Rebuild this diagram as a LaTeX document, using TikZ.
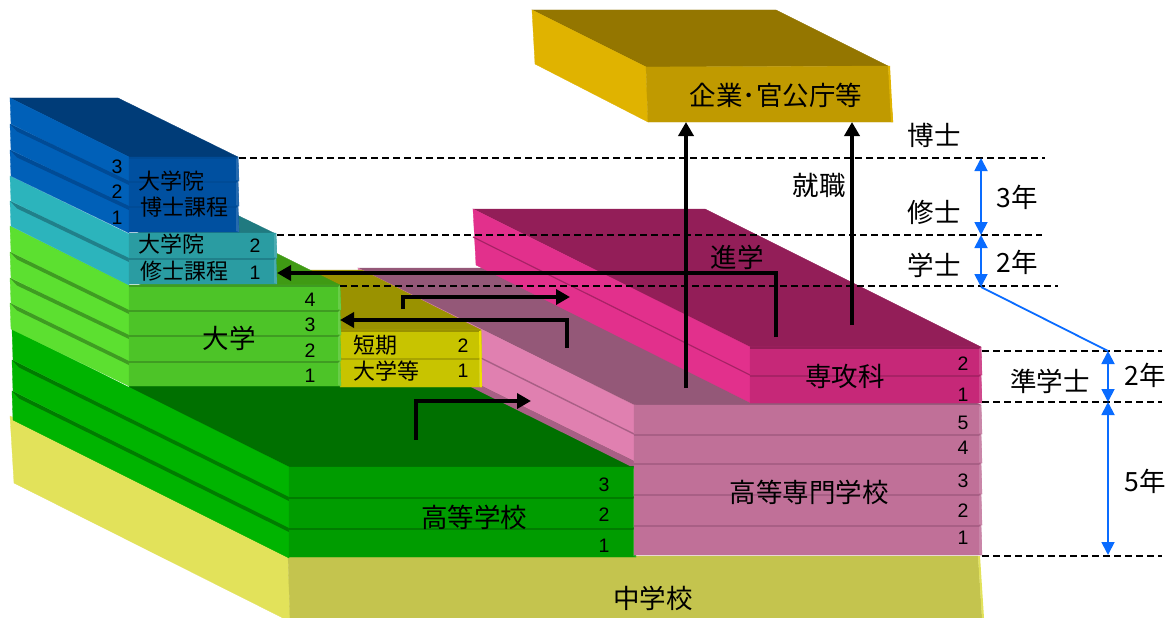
\documentclass[tikz,border=0pt]{standalone}
\usepackage{fontspec}
\setmainfont{Liberation Sans}
\newfontfamily\cjk{Noto Sans CJK JP}
\usetikzlibrary{arrows.meta}
\definecolor{blSide}{HTML}{0060B8}\definecolor{blStrip}{HTML}{004B96}\definecolor{blTop}{HTML}{003C78}\definecolor{blFront}{HTML}{0050A0}
\definecolor{tlSide}{HTML}{2CB4BC}\definecolor{tlStrip}{HTML}{20808A}\definecolor{tlTop}{HTML}{207A80}\definecolor{tlFront}{HTML}{2A9CA2}
\definecolor{ugSide}{HTML}{5CE030}\definecolor{ugStrip}{HTML}{3F9C22}\definecolor{ugTop}{HTML}{3F9A14}\definecolor{ugFront}{HTML}{4DC428}
\definecolor{ylFront}{HTML}{C8C400}\definecolor{ylTop}{HTML}{9A9200}\definecolor{ylStrip}{HTML}{A8A400}
\definecolor{pkSide}{HTML}{E080B0}\definecolor{pkStrip}{HTML}{A85F85}\definecolor{pkTop}{HTML}{945878}\definecolor{pkFront}{HTML}{C07098}
\definecolor{mgSide}{HTML}{E2308C}\definecolor{mgStrip}{HTML}{A82266}\definecolor{mgTop}{HTML}{931E58}\definecolor{mgFront}{HTML}{C62878}
\definecolor{hsSide}{HTML}{00B400}\definecolor{hsStrip}{HTML}{007C00}\definecolor{hsTop}{HTML}{007000}\definecolor{hsFront}{HTML}{009C00}
\definecolor{jhSide}{HTML}{E2E25A}\definecolor{jhFront}{HTML}{C4C44E}
\definecolor{gdSide}{HTML}{E0B300}\definecolor{gdTop}{HTML}{947600}\definecolor{gdFront}{HTML}{C09A00}
\definecolor{span}{HTML}{0A6CFF}
\tikzset{
  num/.style={font=\fontsize{19.5}{20}\selectfont,inner sep=0pt,text=black},
  lab/.style={font=\cjk\fontsize{22}{24}\selectfont,inner sep=0pt,text=black},
  labbig/.style={font=\cjk\fontsize{26.5}{28}\selectfont,inner sep=0pt,text=black},
  flow/.style={line width=4.8pt,-{Triangle[length=14pt,width=15pt]},black},
  spanarrow/.style={line width=1.8pt,{Triangle[length=13pt,width=13pt]}-{Triangle[length=13pt,width=13pt]},span},
  level/.style={dashed,dash pattern=on 7pt off 4pt,line width=1.1pt,black},
  slab/.style={fill=#1,draw=#1,line width=.3pt}
}
% side slab: x-left, y-left, x-right, y-right, y-left-bottom, y-right-bottom, colour
\newcommand{\sidepiece}[7]{\path[slab=#7] (#1,#2)--(#3,#4)--(#3,#6)--(#1+1,#5)--cycle;}
% dark strip along the top edge of a lower side slab
\newcommand{\sidestrip}[5]{\fill[#5] (#1,#2)--(#3,#4)--(#3,#4+4)--(#1+7,#2+7.5)--cycle;}
% front slab: x1,y1,x2,y2,fill,strip colour
\newcommand{\frontpiece}[6]{\path[slab=#5] (#1,#2)--(#3,#2)--(#3+1,#4)--(#1,#4)--cycle;
  \fill[#6] (#1,#2-.5)--(#3,#2-.5)--(#3,#2+2)--(#1,#2+2)--cycle;
  \fill[#5!85!white] (#3-2,#2+2)--(#3,#2)--(#3+1,#4)--(#3-2,#4-1)--cycle;}
\begin{document}
\begin{tikzpicture}[x=1pt,y=-1pt]
\useasboundingbox (0,0) rectangle (1176,618);
\fill[white] (0,0) rectangle (1176,618);
% company block
\path[slab=gdTop] (532,10)--(776,10)--(888,66)--(646,67)--cycle;
\path[slab=gdSide] (532,10)--(646,67)--(648,122)--(535,64)--cycle;
\path[slab=gdFront] (646,67)--(888,66)--(893,122)--(648,122)--cycle;
\fill[gdSide] (888,66)--(890,66)--(893,122)--(891,122)--cycle;
% junior high
\path[slab=jhSide] (10,416)--(288,556)--(290,618)--(283,618)--(14,483)--cycle;
\path[slab=jhFront] (288,556)--(978,556)--(982,618)--(290,618)--cycle;
\fill[jhSide] (978,556)--(980,556)--(984,618)--(982,618)--cycle;
% high school
\path[slab=hsTop] (129,385)--(640,385)--(640,467)--(289,470)--(129,392)--cycle;
\sidepiece{12}{329}{289}{467}{360}{498}{hsSide}
\sidepiece{12}{360}{289}{498}{391}{529}{hsSide}
\sidepiece{12}{391}{289}{529}{420}{558}{hsSide}
\sidestrip{12}{360}{289}{497}{hsStrip}
\sidestrip{12}{391}{289}{528}{hsStrip}
\frontpiece{289}{467}{635}{497}{hsFront}{hsFront}
\frontpiece{289}{497}{635}{528}{hsFront}{hsStrip}
\frontpiece{289}{528}{635}{557}{hsFront}{hsStrip}
% college of technology
\path[slab=pkTop] (358,268)--(705,268)--(981,405)--(634,405)--cycle;
\path[slab=pkSide] (358,268)--(634,405)--(636,405)--(636,462)--(358,325)--cycle;
\fill[pkStrip] (358,325)--(636,462)--(640,466)--(630,466)--(358,331)--cycle;
\draw[pkStrip,line width=1.4pt] (358,297)--(634,434);
\frontpiece{634}{405}{981}{434}{pkFront}{pkFront}
\frontpiece{634}{434}{981}{463}{pkFront}{pkStrip}
\frontpiece{634}{463}{981}{494}{pkFront}{pkStrip}
\frontpiece{634}{494}{981}{525}{pkFront}{pkStrip}
\frontpiece{634}{525}{981}{555}{pkFront}{pkStrip}
% advanced course
\path[slab=mgTop] (473,209)--(705,209)--(981,347)--(750,347)--cycle;
\path[slab=mgSide] (473,209)--(750,347)--(751,403)--(476,265)--cycle;
\draw[mgStrip,line width=1.2pt] (473,237)--(750,375);
\frontpiece{750}{347}{981}{375}{mgFront}{mgTop}
\frontpiece{750}{375}{981}{403}{mgFront}{mgStrip}
% junior college
\path[slab=ylTop] (290,270)--(362,270)--(481,330)--(340,330)--cycle;
\frontpiece{340}{330}{481}{358}{ylFront}{ylTop}
\frontpiece{340}{358}{481}{387}{ylFront}{ylStrip}
\fill[yellow!85!olive] (479,331)--(481,331)--(482,387)--(480,387)--cycle;
% university
\path[slab=ugTop] (240,235)--(340,285)--(129,290)--cycle;
\sidepiece{10}{226}{129}{285}{252}{311}{ugSide}
\sidepiece{10}{252}{129}{311}{278}{336}{ugSide}
\sidepiece{10}{278}{129}{336}{303}{362}{ugSide}
\sidepiece{10}{303}{129}{362}{329}{386}{ugSide}
\sidestrip{10}{252}{129}{310}{ugStrip}
\sidestrip{10}{278}{129}{335}{ugStrip}
\sidestrip{10}{303}{129}{361}{ugStrip}
\frontpiece{129}{285}{340}{310}{ugFront}{ugStrip}
\frontpiece{129}{310}{340}{335}{ugFront}{ugStrip}
\frontpiece{129}{335}{340}{361}{ugFront}{ugStrip}
\frontpiece{129}{361}{340}{386}{ugFront}{ugStrip}
% master
\path[slab=tlTop] (200,197)--(276,234)--(129,238)--cycle;
\sidepiece{10}{176}{129}{234}{201}{259}{tlSide}
\sidepiece{10}{201}{129}{259}{226}{285}{tlSide}
\sidestrip{10}{201}{129}{258}{tlStrip}
\frontpiece{129}{233}{276}{258}{tlFront}{tlFront}
\frontpiece{129}{258}{276}{284}{tlFront}{tlStrip}
% doctor
\path[slab=blTop] (10,98)--(118,98)--(238,157)--(129,157)--cycle;
\sidepiece{10}{98}{129}{157}{124}{182}{blSide}
\sidepiece{10}{124}{129}{182}{150}{207}{blSide}
\sidepiece{10}{150}{129}{207}{176}{233}{blSide}
\sidestrip{10}{124}{129}{181}{blStrip}
\sidestrip{10}{150}{129}{206}{blStrip}
\frontpiece{129}{157}{238}{181}{blFront}{blStrip}
\frontpiece{129}{181}{238}{206}{blFront}{blStrip}
\frontpiece{129}{206}{238}{232}{blFront}{blStrip}
% levels
\coordinate (l3a) at (239,158); \coordinate (l3b) at (1045,158);
\coordinate (l2a) at (277,235); \coordinate (l2b) at (1042,235);
\coordinate (l1a) at (340,286); \coordinate (l1b) at (1058,286);
\coordinate (r2a) at (982,351); \coordinate (r2b) at (1162,351);
\coordinate (r1a) at (982,402); \coordinate (r1b) at (1162,402);
\coordinate (r0a) at (982,556); \coordinate (r0b) at (1162,556);
\draw[level] (l3a)--(l3b);
\draw[level] (l2a)--(l2b);
\draw[level] (l1a)--(l1b);
\draw[level] (r2a)--(r2b);
\draw[level] (r1a)--(r1b);
\draw[level] (r0a)--(r0b);
% span arrows
\coordinate (a3) at (981,158); \coordinate (a2) at (981,235); \coordinate (a1) at (981,287);
\coordinate (b2) at (1108,351); \coordinate (b1) at (1108,402); \coordinate (b0) at (1108,555);
\draw[spanarrow] (a3)--(a2);
\draw[spanarrow] (a2)--(a1);
\draw[span,line width=1.8pt] (a1)--(b2);
\draw[spanarrow] (b2)--(b1);
\draw[spanarrow] (b1)--(b0);
% flow arrows
\coordinate (w1s) at (686,388); \coordinate (w1e) at (686,122);
\coordinate (w2s) at (852,325); \coordinate (w2e) at (852,122);
\coordinate (p1) at (776,337); \coordinate (p1c) at (776,273); \coordinate (p1e) at (277,273);
\coordinate (p2) at (403,309); \coordinate (p2c) at (403,297); \coordinate (p2e) at (570,297);
\coordinate (p3) at (567,348); \coordinate (p3c) at (567,320); \coordinate (p3e) at (340,320);
\coordinate (p4) at (416,440); \coordinate (p4c) at (416,401); \coordinate (p4e) at (531,401);
\draw[flow] (w1s)--(w1e);
\draw[flow] (w2s)--(w2e);
\draw[flow] (p1)--(p1c)--(p1e);
\draw[flow] (p2)--(p2c)--(p2e);
\draw[flow] (p3)--(p3c)--(p3e);
\draw[flow] (p4)--(p4c)--(p4e);
% labels
\node[labbig] (tCo) at (776,95) {企業･官公庁等};
\node[labbig] (tHak) at (934,135) {博士};
\node[labbig] (tShu) at (934,212) {修士};
\node[labbig] (tGak) at (934,265) {学士};
\node[labbig] (tJun) at (1050,381) {準学士};
\node[labbig] (tJob) at (819,185) {就職};
\node[labbig] (tAdv) at (737,257) {進学};
\node[labbig] (tSen) at (845,376) {専攻科};
\node[labbig] (tKos) at (809,492) {高等専門学校};
\node[labbig] (tHS) at (474,517) {高等学校};
\node[labbig] (tJH) at (653,598) {中学校};
\node[labbig] (tUni) at (229,338) {大学};
\node[lab] (tTan) at (375,345) {短期};
\node[lab] (tDai) at (386,371) {大学等};
\node[lab] (tD1) at (171,181) {大学院};
\node[lab] (tD2) at (184,207) {博士課程};
\node[lab] (tM1) at (171,244) {大学院};
\node[lab] (tM2) at (184,271) {修士課程};
\node[labbig] (y3) at (1017,197) {3年};
\node[labbig] (y2) at (1017,262) {2年};
\node[labbig] (y2b) at (1145,375) {2年};
\node[labbig] (y5) at (1145,481) {5年};
% year numbers
\node[num] (d3) at (117,167) {3};
\node[num] (d2) at (117,192) {2};
\node[num] (d1) at (117,218) {1};
\node[num] (m2) at (255,246) {2};
\node[num] (m1) at (255,273) {1};
\node[num] (u4) at (310,300) {4};
\node[num] (u3) at (310,325) {3};
\node[num] (u2) at (310,351) {2};
\node[num] (u1) at (310,376) {1};
\node[num] (c2) at (463,346) {2};
\node[num] (c1) at (463,371) {1};
\node[num] (s2) at (963,364) {2};
\node[num] (s1) at (963,395) {1};
\node[num] (k5) at (963,423) {5};
\node[num] (k4) at (963,448) {4};
\node[num] (k3) at (963,481) {3};
\node[num] (k2) at (963,511) {2};
\node[num] (k1) at (963,538) {1};
\node[num] (h3) at (604,485) {3};
\node[num] (h2) at (604,515) {2};
\node[num] (h1) at (604,546) {1};
\end{tikzpicture}
\end{document}
